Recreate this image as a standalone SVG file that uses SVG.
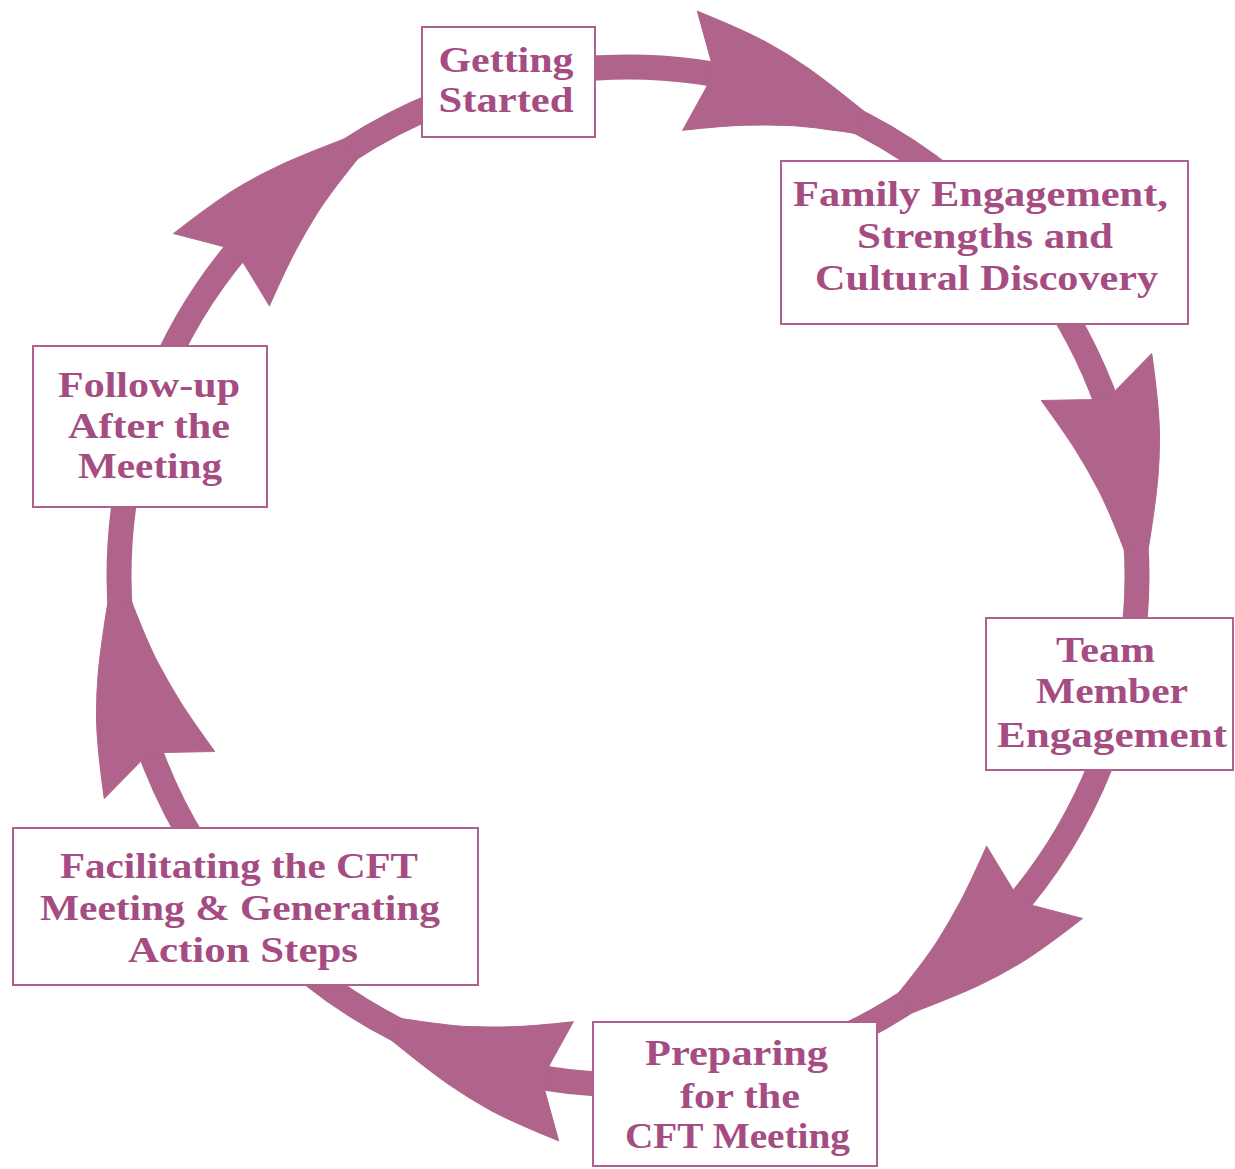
<svg xmlns="http://www.w3.org/2000/svg" width="1235" height="1169" viewBox="0 0 1235 1169">
  <style>
    .ring { fill: none; stroke: #b0648c; stroke-width: 25; }
    .head { fill: #b0648c; stroke: #b0648c; stroke-width: 1; stroke-linejoin: round; }
    .box { fill: #ffffff; stroke: #b0608e; stroke-width: 2; }
    .lbl { font-family: "Liberation Serif", "Times New Roman", serif; font-weight: bold; font-size: 36px; fill: #a54c82; text-anchor: middle; }
  </style>
  <defs>
    <path id="head" class="head" d="M520.61,20.00 L569,0 Q555.87,48.64 546.79,71.73 Q537.71,94.81 526.28,116.38 Q514.84,137.95 489.58,178.19 L467.03,169.98 Q468.48,125.53 466.66,103.75 Q464.83,81.96 461.54,61.03 Q458.25,40.09 449,0 L496.63,19.08 Z"/>
  </defs>
  <rect x="0" y="0" width="1235" height="1169" fill="#ffffff"/>
  <g id="connectors">
    <circle class="ring" cx="628" cy="576" r="509"/>
    <use href="#head" transform="translate(628,576) rotate(-83)"/>
    <use href="#head" transform="translate(628,576) rotate(-23)"/>
    <use href="#head" transform="translate(628,576) rotate(37)"/>
    <use href="#head" transform="translate(628,576) rotate(97)"/>
    <use href="#head" transform="translate(628,576) rotate(157)"/>
    <use href="#head" transform="translate(628,576) rotate(217)"/>
  </g>
  <g id="node-getting-started">
    <rect class="box" x="422" y="27" width="173" height="110"/>
    <text class="lbl" x="506" y="72" textLength="135" lengthAdjust="spacingAndGlyphs">Getting</text>
    <text class="lbl" x="506" y="112" textLength="135" lengthAdjust="spacingAndGlyphs">Started</text>
  </g>
  <g id="node-family-engagement">
    <rect class="box" x="781" y="161" width="407" height="163"/>
    <text class="lbl" x="980.5" y="206" textLength="375" lengthAdjust="spacingAndGlyphs">Family Engagement,</text>
    <text class="lbl" x="985" y="248" textLength="256" lengthAdjust="spacingAndGlyphs">Strengths and</text>
    <text class="lbl" x="986.5" y="290" textLength="343" lengthAdjust="spacingAndGlyphs">Cultural Discovery</text>
  </g>
  <g id="node-team-member">
    <rect class="box" x="986" y="618" width="247" height="152"/>
    <text class="lbl" x="1105.5" y="662" textLength="99" lengthAdjust="spacingAndGlyphs">Team</text>
    <text class="lbl" x="1112" y="703" textLength="152" lengthAdjust="spacingAndGlyphs">Member</text>
    <text class="lbl" x="1112" y="747" textLength="230" lengthAdjust="spacingAndGlyphs">Engagement</text>
  </g>
  <g id="node-preparing">
    <rect class="box" x="593" y="1022" width="284" height="144"/>
    <text class="lbl" x="736.5" y="1065" textLength="183" lengthAdjust="spacingAndGlyphs">Preparing</text>
    <text class="lbl" x="740" y="1108" textLength="120" lengthAdjust="spacingAndGlyphs">for the</text>
    <text class="lbl" x="737.5" y="1148" textLength="225" lengthAdjust="spacingAndGlyphs">CFT Meeting</text>
  </g>
  <g id="node-facilitating">
    <rect class="box" x="13" y="828" width="465" height="157"/>
    <text class="lbl" x="239" y="878" textLength="358" lengthAdjust="spacingAndGlyphs">Facilitating the CFT</text>
    <text class="lbl" x="240" y="920" textLength="400" lengthAdjust="spacingAndGlyphs">Meeting &amp; Generating</text>
    <text class="lbl" x="243" y="962" textLength="230" lengthAdjust="spacingAndGlyphs">Action Steps</text>
  </g>
  <g id="node-follow-up">
    <rect class="box" x="33" y="346" width="234" height="161"/>
    <text class="lbl" x="149" y="397" textLength="182" lengthAdjust="spacingAndGlyphs">Follow-up</text>
    <text class="lbl" x="149" y="438" textLength="162" lengthAdjust="spacingAndGlyphs">After the</text>
    <text class="lbl" x="150" y="478" textLength="144" lengthAdjust="spacingAndGlyphs">Meeting</text>
  </g>
</svg>
